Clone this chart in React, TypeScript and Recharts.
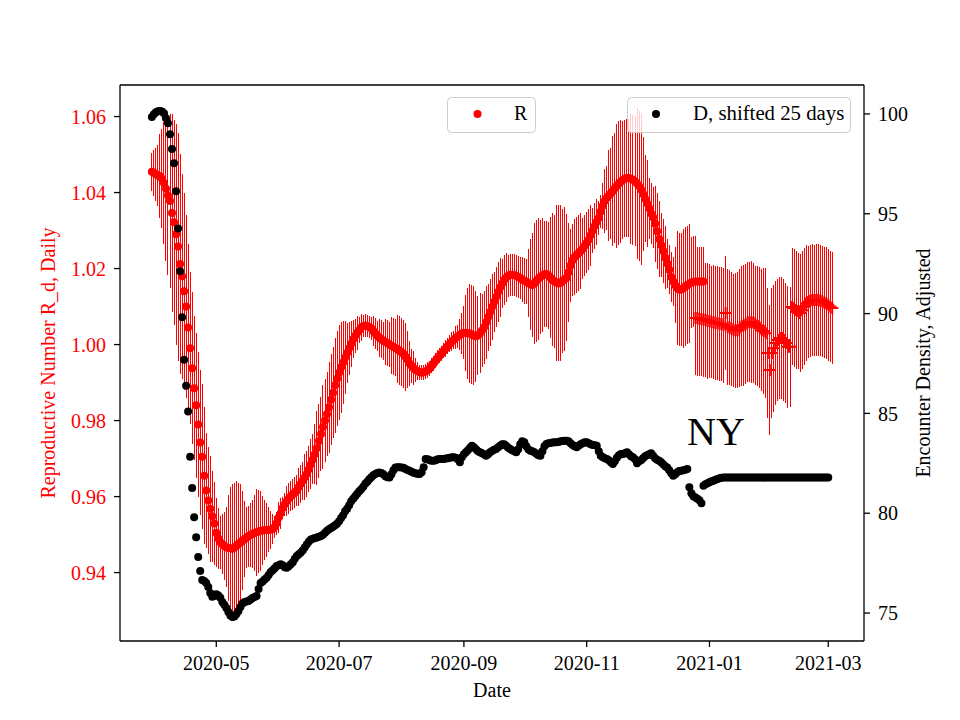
import React from "react";
import { ComposedChart, Scatter, ErrorBar, XAxis, YAxis, ReferenceLine } from "recharts";

const FONT = '"Liberation Serif", "DejaVu Serif", "Times New Roman", serif';
const DAY = 86400000;
const START = Date.UTC(2020, 2, 30); // first day of both series

// daily R (dots), 2020-03-30 .. 2020-12-30
const R_MAIN = [
  1.0455, 1.0452, 1.0448, 1.0445, 1.0443, 1.0436, 1.0425, 1.0410, 1.0392, 1.0378,
  1.0346, 1.0322, 1.0290, 1.0258, 1.0212, 1.0180, 1.0140, 1.0100, 1.0045, 0.9990,
  0.9938, 0.9885, 0.9840, 0.9790, 0.9742, 0.9705, 0.9655, 0.9616, 0.9590, 0.9568,
  0.9548, 0.9529, 0.9505, 0.9490, 0.9480, 0.9475, 0.9470, 0.9467, 0.9465, 0.9464,
  0.9463, 0.9466, 0.9470, 0.9475, 0.9479, 0.9484, 0.9488, 0.9492, 0.9496, 0.9499,
  0.9502, 0.9504, 0.9506, 0.9508, 0.9510, 0.9511, 0.9512, 0.9512, 0.9513, 0.9513,
  0.9515, 0.9520, 0.9530, 0.9545, 0.9556, 0.9570, 0.9580, 0.9588, 0.9595, 0.9601,
  0.9606, 0.9611, 0.9616, 0.9625, 0.9634, 0.9642, 0.9651, 0.9660, 0.9672, 0.9685,
  0.9698, 0.9712, 0.9728, 0.9746, 0.9765, 0.9783, 0.9800, 0.9817, 0.9835, 0.9855,
  0.9873, 0.9893, 0.9910, 0.9926, 0.9940, 0.9953, 0.9966, 0.9978, 0.9990, 1.0002,
  1.0014, 1.0023, 1.0031, 1.0038, 1.0045, 1.0049, 1.0050, 1.0049, 1.0046, 1.0042,
  1.0036, 1.0029, 1.0023, 1.0018, 1.0014, 1.0010, 1.0007, 1.0004, 1.0000, 0.9997,
  0.9994, 0.9991, 0.9988, 0.9984, 0.9980, 0.9975, 0.9968, 0.9960, 0.9950, 0.9944,
  0.9938, 0.9933, 0.9930, 0.9927, 0.9926, 0.9927, 0.9929, 0.9933, 0.9938, 0.9944,
  0.9951, 0.9958, 0.9965, 0.9971, 0.9977, 0.9984, 0.9990, 0.9996, 1.0002, 1.0008,
  1.0013, 1.0018, 1.0022, 1.0026, 1.0029, 1.0031, 1.0031, 1.0030, 1.0029, 1.0026,
  1.0023, 1.0022, 1.0024, 1.0030, 1.0037, 1.0045, 1.0058, 1.0072, 1.0085, 1.0099,
  1.0112, 1.0125, 1.0138, 1.0150, 1.0161, 1.0170, 1.0176, 1.0181, 1.0184, 1.0184,
  1.0183, 1.0181, 1.0178, 1.0175, 1.0171, 1.0168, 1.0166, 1.0162, 1.0159, 1.0157,
  1.0161, 1.0167, 1.0173, 1.0178, 1.0182, 1.0185, 1.0186, 1.0182, 1.0176, 1.0170,
  1.0166, 1.0163, 1.0161, 1.0162, 1.0167, 1.0172, 1.0176, 1.0190, 1.0208, 1.0222,
  1.0230, 1.0236, 1.0241, 1.0246, 1.0252, 1.0260, 1.0268, 1.0276, 1.0288, 1.0300,
  1.0312, 1.0323, 1.0333, 1.0350, 1.0365, 1.0378, 1.0386, 1.0392, 1.0398, 1.0404,
  1.0411, 1.0418, 1.0424, 1.0429, 1.0433, 1.0437, 1.0438, 1.0438, 1.0436, 1.0434,
  1.0430, 1.0424, 1.0417, 1.0408, 1.0396, 1.0384, 1.0372, 1.0359, 1.0345, 1.0335,
  1.0318, 1.0298, 1.0278, 1.0262, 1.0246, 1.0229, 1.0213, 1.0197, 1.0178, 1.0166,
  1.0156, 1.0149, 1.0144, 1.0145, 1.0148, 1.0153, 1.0157, 1.0160, 1.0163, 1.0165,
  1.0166, 1.0166, 1.0166, 1.0166, 1.0166,
];

const R_MAIN_ERR = [
  0.005, 0.006, 0.007, 0.008, 0.011, 0.013, 0.016, 0.019, 0.021, 0.023,
  0.026, 0.027, 0.029, 0.030, 0.029, 0.027, 0.026, 0.024, 0.022, 0.020,
  0.020, 0.019, 0.019, 0.019, 0.019, 0.019, 0.018, 0.015, 0.014, 0.014,
  0.012, 0.011, 0.009, 0.008, 0.007, 0.008, 0.009, 0.0105, 0.014, 0.016,
  0.017, 0.017, 0.017, 0.016, 0.0155, 0.013, 0.010, 0.008, 0.008, 0.0085,
  0.009, 0.010, 0.0115, 0.011, 0.0105, 0.009, 0.008, 0.007, 0.006, 0.005,
  0.004, 0.003, 0.003, 0.004, 0.004, 0.003, 0.003, 0.004, 0.004, 0.004,
  0.004, 0.004, 0.004, 0.005, 0.005, 0.005, 0.006, 0.006, 0.006, 0.0066,
  0.0066, 0.008, 0.0098, 0.0098, 0.0098, 0.011, 0.011, 0.011, 0.012, 0.012,
  0.012, 0.0125, 0.0125, 0.0125, 0.012, 0.011, 0.0095, 0.008, 0.007, 0.006,
  0.005, 0.0045, 0.0045, 0.0035, 0.0035, 0.003, 0.003, 0.003, 0.003, 0.003,
  0.004, 0.004, 0.004, 0.005, 0.005, 0.005, 0.006, 0.006, 0.006, 0.0075,
  0.0075, 0.0075, 0.009, 0.009, 0.009, 0.009, 0.009, 0.0075, 0.006, 0.0045,
  0.0045, 0.0032, 0.0024, 0.002, 0.002, 0.002, 0.002, 0.002, 0.002, 0.002,
  0.002, 0.002, 0.002, 0.002, 0.002, 0.002, 0.0022, 0.0022, 0.0022, 0.0024,
  0.0024, 0.003, 0.003, 0.004, 0.0055, 0.007, 0.010, 0.012, 0.013, 0.013,
  0.013, 0.012, 0.0105, 0.0105, 0.0095, 0.0095, 0.0095, 0.0088, 0.0088, 0.0088,
  0.0078, 0.0078, 0.0078, 0.0078, 0.0065, 0.0065, 0.0065, 0.0055, 0.0055, 0.0055,
  0.0055, 0.0055, 0.0055, 0.0055, 0.006, 0.006, 0.006, 0.009, 0.012, 0.0137,
  0.016, 0.016, 0.016, 0.015, 0.015, 0.014, 0.014, 0.014, 0.016, 0.0175,
  0.0175, 0.0205, 0.0205, 0.0205, 0.019, 0.019, 0.0167, 0.013, 0.0095, 0.0095,
  0.010, 0.010, 0.010, 0.010, 0.008, 0.008, 0.008, 0.008, 0.008, 0.006,
  0.006, 0.006, 0.0044, 0.0044, 0.006, 0.0084, 0.0084, 0.012, 0.012, 0.0145,
  0.0145, 0.0163, 0.0163, 0.0163, 0.0155, 0.0155, 0.0155, 0.0155, 0.0171, 0.0171,
  0.0171, 0.0198, 0.0198, 0.0198, 0.015, 0.0114, 0.0114, 0.008, 0.008, 0.008,
  0.010, 0.010, 0.010, 0.0084, 0.0084, 0.0084, 0.0065, 0.0065, 0.0065, 0.0065,
  0.010, 0.0149, 0.0149, 0.0149, 0.0156, 0.0156, 0.0156, 0.0156, 0.012, 0.012,
  0.012, 0.0092, 0.0092, 0.0092, 0.0092,
];

// later R estimates ("+" markers), starting 270 days after START
const PLUS_OFFSET = 270;
const R_PLUS = [
  1.0070, 1.0070, 1.0067, 1.0067, 1.0065, 1.0065, 1.0062, 1.0062, 1.0059, 1.0059,
  1.0057, 1.0057, 1.0054, 1.0054, 1.0051, 1.0083, 1.0046, 1.0044, 1.0041, 1.0038,
  1.0038, 1.0038, 1.0044, 1.0049, 1.0051, 1.0054, 1.0059, 1.0059, 1.0059, 1.0057,
  1.0051, 1.0049, 1.0044, 1.0038, 1.0036, 1.0030, 0.9978, 0.9933, 0.9978, 0.9990,
  1.0004, 1.0012, 1.0017, 1.0017, 1.0012, 1.0004, 0.9994, 0.9994, 1.0099, 1.0096,
  1.0091, 1.0088, 1.0083, 1.0090, 1.0100, 1.0109, 1.0112, 1.0115, 1.0117, 1.0117,
  1.0117, 1.0117, 1.0116, 1.0114, 1.0111, 1.0109, 1.0105, 1.0100, 1.0096,
];

const R_PLUS_ERR = [
  0.0150, 0.0152, 0.0150, 0.0149, 0.0151, 0.0150, 0.0152, 0.0150, 0.0148, 0.0150,
  0.0151, 0.0150, 0.0149, 0.0150, 0.0151, 0.0150, 0.0152, 0.0151, 0.0150, 0.0149,
  0.0151, 0.0152, 0.0156, 0.0158, 0.0159, 0.0158, 0.0157, 0.0158, 0.0160, 0.0158,
  0.0157, 0.0158, 0.0159, 0.0160, 0.0165, 0.0171, 0.0172, 0.0171, 0.0170, 0.0168,
  0.0162, 0.0160, 0.0160, 0.0161, 0.0160, 0.0159, 0.0160, 0.0158, 0.0154, 0.0155,
  0.0154, 0.0153, 0.0154, 0.0155, 0.0154, 0.0152, 0.0147, 0.0148, 0.0147, 0.0146,
  0.0147, 0.0148, 0.0147, 0.0146, 0.0147, 0.0148, 0.0147, 0.0146, 0.0147,
];

// encounter density, shifted 25 days
const D_VALUES = [
  99.85, 99.98, 100.08, 100.14, 100.15, 100.12, 100.04, 99.78, 99.53, 98.98,
  98.24, 97.53, 96.13, 94.26, 92.12, 89.82, 87.69, 86.38, 85.09, 82.83,
  81.26, 79.80, 78.80, 77.81, 77.11, 76.66, 76.60, 76.50, 76.30, 76.00,
  75.82, 75.85, 75.94, 75.88, 75.77, 75.55, 75.42, 75.25, 75.05, 74.88,
  74.80, 74.83, 74.95, 75.10, 75.30, 75.48, 75.55, 75.58, 75.60, 75.68,
  75.75, 75.80, 75.85, 76.20, 76.50, 76.58, 76.68, 76.77, 76.90, 77.05,
  77.15, 77.25, 77.36, 77.40, 77.44, 77.40, 77.30, 77.27, 77.35, 77.44,
  77.55, 77.72, 77.86, 77.95, 78.03, 78.15, 78.30, 78.45, 78.58, 78.68,
  78.72, 78.76, 78.78, 78.82, 78.86, 78.92, 79.02, 79.12, 79.20, 79.26,
  79.32, 79.40, 79.47, 79.60, 79.76, 79.90, 80.10, 80.23, 80.40, 80.60,
  80.72, 80.85, 80.98, 81.10, 81.20, 81.33, 81.48, 81.58, 81.70, 81.80,
  81.90, 81.97, 82.02, 82.04, 82.02, 81.95, 81.85, 81.80, 81.79, 81.95,
  82.15, 82.29, 82.30, 82.30, 82.29, 82.28, 82.22, 82.17, 82.13, 82.08,
  82.03, 82.00, 81.97, 81.96, 82.05, 82.30, 82.72, 82.70, 82.66, 82.63,
  82.63, 82.66, 82.70, 82.72, 82.72, 82.72, 82.74, 82.76, 82.78, 82.80,
  82.80, 82.78, 82.70, 82.55, 82.80, 82.95, 83.05, 83.15, 83.28, 83.38,
  83.30, 83.20, 83.10, 83.05, 83.00, 82.95, 82.88, 82.95, 83.05, 83.12,
  83.18, 83.22, 83.30, 83.38, 83.45, 83.45, 83.38, 83.28, 83.22, 83.15,
  83.10, 83.05, 83.20, 83.45, 83.60, 83.55, 83.35, 83.20, 83.13, 83.10,
  83.05, 82.98, 82.90, 82.88, 83.10, 83.35, 83.47, 83.50, 83.52, 83.54,
  83.55, 83.55, 83.57, 83.60, 83.62, 83.63, 83.63, 83.60, 83.50, 83.42,
  83.35, 83.30, 83.38, 83.45, 83.50, 83.55, 83.55, 83.50, 83.45, 83.42,
  83.40, 83.38, 83.10, 82.88, 82.80, 82.75, 82.72, 82.65, 82.55, 82.47,
  82.60, 82.78, 82.90, 82.97, 82.97, 83.00, 83.05, 82.95, 82.85, 82.80,
  82.70, 82.50, 82.60, 82.65, 82.75, 82.85, 82.90, 82.95, 83.00, 82.88,
  82.75, 82.68, 82.63, 82.55, 82.45, 82.35, 82.29, 82.15, 82.00, 81.88,
  81.95, 82.05, 82.12, 82.13, 82.15, 82.18, 82.21, 81.30, 81.00, 80.85,
  80.79, 80.72, 80.65, 80.50, 81.38, 81.45, 81.50, 81.55, 81.60, 81.63,
  81.68, 81.72, 81.75, 81.78, 81.79, 81.79, 81.79, 81.79, 81.79, 81.79,
  81.79, 81.79, 81.79, 81.79, 81.79, 81.79, 81.79, 81.79, 81.79, 81.79,
  81.79, 81.79, 81.79, 81.79, 81.79, 81.79, 81.79, 81.79, 81.79, 81.79,
  81.79, 81.79, 81.79, 81.79, 81.79, 81.79, 81.79, 81.79, 81.79, 81.79,
  81.79, 81.79, 81.79, 81.79, 81.79, 81.79, 81.79, 81.79, 81.79, 81.79,
  81.79, 81.79, 81.79, 81.79, 81.79, 81.79, 81.79,
];

const X_TICKS = ["2020-05-01", "2020-07-01", "2020-09-01", "2020-11-01", "2021-01-01", "2021-03-01"];
const LEFT_TICKS = [0.94, 0.96, 0.98, 1.0, 1.02, 1.04, 1.06];
const RIGHT_TICKS = [75, 80, 85, 90, 95, 100];

const X_DOMAIN = [START - 15.84 * DAY, START + 353.76 * DAY];
const LEFT_DOMAIN = [0.922, 1.0683];
const RIGHT_DOMAIN = [73.6, 101.45];

const rMainData = R_MAIN.map((r, i) => ({ t: START + i * DAY, r, e: R_MAIN_ERR[i] }));
const rPlusData = R_PLUS.map((r, i) => ({ t: START + (PLUS_OFFSET + i) * DAY, r, e: R_PLUS_ERR[i] }));
const dData = D_VALUES.map((d, i) => ({ t: START + i * DAY, d }));

const RED = "#ff0000";
const AXIS = { stroke: "#000", strokeWidth: 1.3 };

const dot = (fill: string) => (p: any) => <circle cx={p.cx} cy={p.cy} r={4} fill={fill} />;
const plus = (p: any) => (
  <path d={`M${p.cx - 6},${p.cy}H${p.cx + 6}M${p.cx},${p.cy - 6}V${p.cy + 6}`} stroke={RED} strokeWidth={2} fill="none" />
);

const axisLabel = (text: string, x: number, y: number, angle: number, fill: string) => () => (
  <text
    x={x}
    y={y}
    transform={angle ? `rotate(${angle} ${x} ${y})` : undefined}
    textAnchor="middle"
    fill={fill}
    fontSize={20}
    fontFamily={FONT}
  >
    {text}
  </text>
);

const fmtMonth = (t: number) => new Date(t).toISOString().slice(0, 7);

export default function App() {
  return (
    <div style={{ position: "absolute", left: 0, top: 0, width: 960, height: 720, background: "#fff", fontFamily: FONT }}>
      <ComposedChart width={960} height={720} margin={{ top: 85, right: 0, bottom: 0, left: 0 }}>
        <XAxis
          xAxisId="x"
          dataKey="t"
          type="number"
          domain={X_DOMAIN}
          allowDataOverflow
          ticks={X_TICKS.map((d) => Date.parse(d))}
          tickFormatter={fmtMonth}
          height={79}
          tickSize={6}
          tickMargin={9}
          axisLine={AXIS}
          tickLine={AXIS}
          tick={{ fill: "#000", fontSize: 20, fontFamily: FONT }}
          label={{ content: axisLabel("Date", 492, 697, 0, "#000") }}
        />
        <YAxis
          yAxisId="left"
          dataKey="r"
          type="number"
          domain={LEFT_DOMAIN}
          allowDataOverflow
          ticks={LEFT_TICKS}
          tickFormatter={(v: number) => v.toFixed(2)}
          width={120}
          tickSize={6}
          tickMargin={8}
          axisLine={AXIS}
          tickLine={AXIS}
          tick={{ fill: RED, fontSize: 20, fontFamily: FONT }}
          label={{ content: axisLabel("Reproductive Number R_d, Daily", 55, 363, -90, RED) }}
        />
        <YAxis
          yAxisId="right"
          orientation="right"
          dataKey="d"
          type="number"
          domain={RIGHT_DOMAIN}
          allowDataOverflow
          ticks={RIGHT_TICKS}
          width={96}
          tickSize={6}
          tickMargin={8}
          axisLine={AXIS}
          tickLine={AXIS}
          tick={{ fill: "#000", fontSize: 20, fontFamily: FONT }}
          label={{ content: axisLabel("Encounter Density, Adjusted", 930, 363, -90, "#000") }}
        />
        <ReferenceLine xAxisId="x" yAxisId="left" y={LEFT_DOMAIN[1]} stroke="#000" strokeWidth={1.3} />
        <Scatter xAxisId="x" yAxisId="left" data={rMainData} shape={dot(RED)} isAnimationActive={false}>
          <ErrorBar dataKey="e" direction="y" width={0} stroke={RED} strokeWidth={1} shapeRendering="crispEdges" />
        </Scatter>
        <Scatter xAxisId="x" yAxisId="left" data={rPlusData} shape={plus} isAnimationActive={false}>
          <ErrorBar dataKey="e" direction="y" width={0} stroke={RED} strokeWidth={1} shapeRendering="crispEdges" />
        </Scatter>
        <Scatter xAxisId="x" yAxisId="right" data={dData} shape={dot("#000")} isAnimationActive={false} />
      </ComposedChart>
      <svg width={960} height={720} style={{ position: "absolute", left: 0, top: 0, pointerEvents: "none" }} fontFamily={FONT}>
        <text x={687} y={445} fontSize={40} fill="#000">NY</text>
        <rect x={447.5} y={97.5} width={88} height={35} rx={4} fill="#fff" fillOpacity={0.8} stroke="#cccccc" />
        <circle cx={477.5} cy={114} r={4} fill={RED} />
        <text x={514} y={120} fontSize={20} fill="#000">R</text>
        <rect x={627.5} y={97.5} width={223} height={35} rx={4} fill="#fff" fillOpacity={0.8} stroke="#cccccc" />
        <circle cx={656} cy={114} r={4} fill="#000" />
        <text x={693} y={120} fontSize={20.8} fill="#000">D, shifted 25 days</text>
      </svg>
    </div>
  );
}
